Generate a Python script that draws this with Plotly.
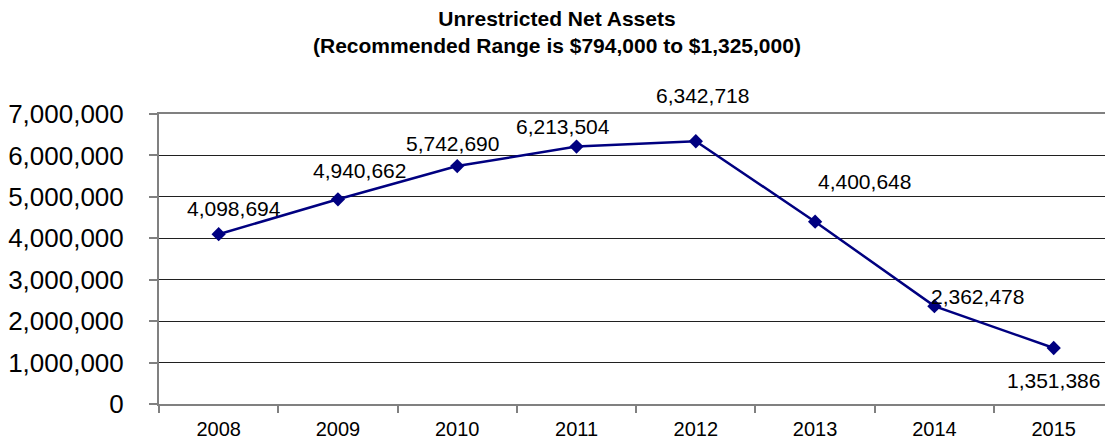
import plotly.graph_objects as go

# Fiscal years and unrestricted net asset balances
years = ["2008", "2009", "2010", "2011", "2012", "2013", "2014", "2015"]
net_assets = [4098694, 4940662, 5742690, 6213504, 6342718, 4400648, 2362478, 1351386]

# y-axis ticks
y_ticks = [0, 1000000, 2000000, 3000000, 4000000, 5000000, 6000000, 7000000]

# pixel nudges for each value label (dx right, dy up)
label_shift = [(15, 26), (22, 29), (-5, 23), (-14, 20), (7, 46), (49, 40), (43, 10), (0, -32)]

NAVY = "#000080"
FONT = "Liberation Sans, Arial, sans-serif"

fig = go.Figure()
fig.add_trace(go.Scatter(
    x=years, y=net_assets, mode="lines+markers",
    line=dict(color=NAVY, width=2.5),
    marker=dict(symbol="diamond", size=11, color=NAVY),
    hoverinfo="x+y", showlegend=False,
))

# value labels; category axis positions are given by index
for i, (val, (dx, dy)) in enumerate(zip(net_assets, label_shift)):
    fig.add_annotation(
        x=i, y=val, xref="x", yref="y", text=f"{val:,}", showarrow=False,
        xshift=dx, yshift=dy, font=dict(family=FONT, size=21, color="#000000"),
    )

fig.add_annotation(
    text="<b>Unrestricted Net Assets<br>(Recommended Range is $794,000 to $1,325,000)</b>",
    xref="paper", yref="paper", x=0.421, y=1.0, yshift=109, yanchor="top",
    showarrow=False, align="center",
    font=dict(family=FONT, size=21, color="#000000"),
)

fig.update_layout(
    width=1105, height=441,
    margin=dict(l=159, r=0, t=114, b=37),
    paper_bgcolor="white", plot_bgcolor="white",
    font=dict(family=FONT, color="#000000"),
    xaxis=dict(
        type="category", range=[-0.5, 7.43],
        tickson="boundaries", ticks="outside", ticklen=7, tickcolor="#808080", tickwidth=1.5,
        showgrid=False, showline=True, linecolor="#808080", linewidth=2, mirror=True,
        tickfont=dict(family=FONT, size=20, color="#000000"),
        ticklabelstandoff=6,
    ),
    yaxis=dict(
        range=[0, 7000000], tickvals=y_ticks, tickformat=",d",
        ticks="outside", ticklen=8, tickcolor="#808080", tickwidth=1.5,
        showgrid=True, gridcolor="#202020", gridwidth=1,
        showline=True, linecolor="#808080", linewidth=2,
        zeroline=False,
        tickfont=dict(family=FONT, size=26, color="#000000"),
        ticklabelstandoff=20,
    ),
)

fig.write_html("out.html")
